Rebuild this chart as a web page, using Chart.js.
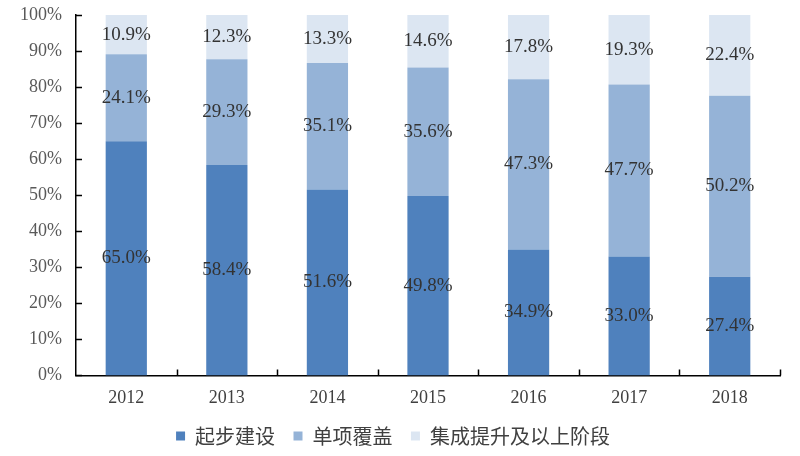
<!DOCTYPE html>
<html>
<head>
<meta charset="utf-8">
<script src="https://cdn.jsdelivr.net/npm/chart.js@4"></script>
<style>
	html, body { margin: 0; padding: 0; background: #fff; }
	#wrap { width: 800px; height: 456px; }
</style>
</head>
<body>
<div id="wrap"><canvas id="c"></canvas></div>
<script>
// values (percent)
const years = ["2012", "2013", "2014", "2015", "2016", "2017", "2018"];
const startBuild = [65.0, 58.4, 51.6, 49.8, 34.9, 33.0, 27.4];
const singleCover = [24.1, 29.3, 35.1, 35.6, 47.3, 47.7, 50.2];
const integrated = [10.9, 12.3, 13.3, 14.6, 17.8, 19.3, 22.4];
const yTicks = [0, 10, 20, 30, 40, 50, 60, 70, 80, 90, 100];

const serif = "'Liberation Serif', 'Times New Roman', serif";
const cjk = "'Noto Sans CJK SC', sans-serif";

// value labels in the middle of each segment
const segLabels = {
	id: "segLabels",
	afterDatasetsDraw(chart) {
		const ctx = chart.ctx;
		ctx.save();
		ctx.font = "19px " + serif;
		ctx.fillStyle = "#333333";
		ctx.textAlign = "center";
		ctx.textBaseline = "middle";
		chart.data.datasets.forEach((ds, i) => {
			chart.getDatasetMeta(i).data.forEach((bar, j) => {
				const p = bar.getCenterPoint();
				ctx.fillText(ds.data[j].toFixed(1) + "%", p.x, p.y);
			});
		});
		ctx.restore();
	}
};

// short tick marks pointing into the plot
const innerTicks = {
	id: "innerTicks",
	afterDraw(chart) {
		const ctx = chart.ctx;
		const x = chart.scales.x;
		const y = chart.scales.y;
		ctx.save();
		ctx.strokeStyle = "#000";
		ctx.lineWidth = 1.5;
		ctx.beginPath();
		yTicks.forEach(v => {
			const py = Math.round(y.getPixelForValue(v)) + 0.5;
			ctx.moveTo(x.left, py);
			ctx.lineTo(x.left + 6, py);
		});
		const half = (x.getPixelForValue(1) - x.getPixelForValue(0)) / 2;
		for (let i = 1; i <= years.length; i++) {
			const px = Math.round(x.getPixelForValue(i) - half) + 0.5;
			ctx.moveTo(px, y.bottom);
			ctx.lineTo(px, y.bottom - 6);
		}
		ctx.stroke();
		ctx.restore();
	}
};

new Chart(document.getElementById("c"), {
	type: "bar",
	data: {
		labels: years,
		datasets: [
			{label: "起步建设", data: startBuild, backgroundColor: "#4F81BD"},
			{label: "单项覆盖", data: singleCover, backgroundColor: "#95B3D7"},
			{label: "集成提升及以上阶段", data: integrated, backgroundColor: "#DCE6F2"},
		],
	},
	options: {
		responsive: true,
		maintainAspectRatio: false,
		animation: false,
		datasets: {
			bar: {categoryPercentage: 1, barPercentage: 0.41},
		},
		layout: {padding: {left: 6, right: 20, top: 15, bottom: 0}},
		scales: {
			x: {
				stacked: true,
				grid: {display: false, drawTicks: false},
				border: {display: true, color: "#000", width: 1.5},
				ticks: {font: {family: serif, size: 18}, color: "#404040", padding: 12},
			},
			y: {
				stacked: true,
				min: 0,
				max: 100,
				grid: {display: false, drawTicks: false},
				border: {display: true, color: "#000", width: 1.5},
				ticks: {
					stepSize: 10,
					font: {family: serif, size: 18},
					color: "#595959",
					padding: 14,
					callback: v => v + "%",
				},
				afterFit: s => { s.paddingTop = 0; s.paddingBottom = 0; },
			},
		},
		plugins: {
			legend: {
				position: "bottom",
				labels: {
					boxWidth: 9,
					boxHeight: 9,
					padding: 5,
					font: {family: cjk, size: 20},
					color: "#404040",
					// a little extra room between legend entries
					generateLabels: chart => {
						const items = Chart.defaults.plugins.legend.labels.generateLabels(chart);
						items.forEach((it, i) => {
							if (i < items.length - 1) it.text = it.text + "   ";
						});
						return items;
					},
				},
			},
			tooltip: {enabled: false},
		},
	},
	plugins: [segLabels, innerTicks],
});
</script>
</body>
</html>
